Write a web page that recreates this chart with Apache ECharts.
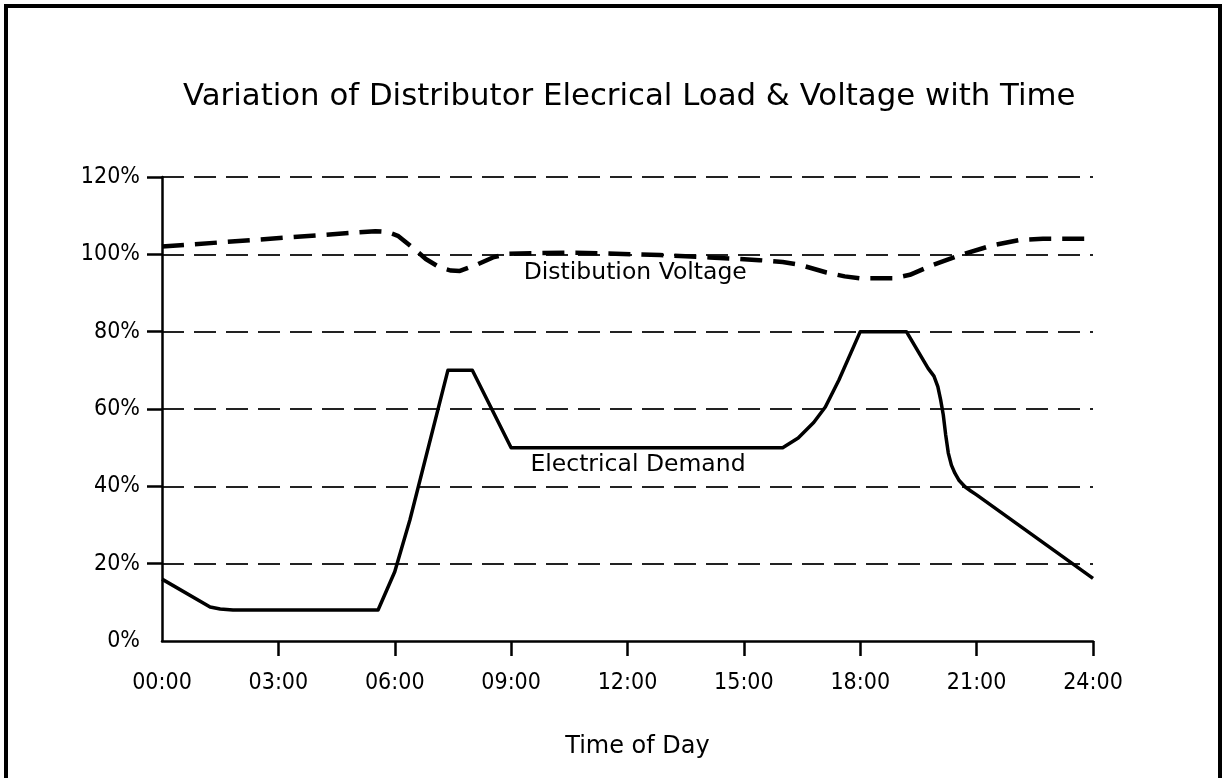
<!DOCTYPE html>
<html>
<head>
<meta charset="utf-8">
<style>html,body{margin:0;padding:0;background:#fff}#c{width:1223px;height:778px}</style>
<script src="https://cdn.jsdelivr.net/npm/echarts@6/dist/echarts.min.js"></script>
</head>
<body>
<div id="c"></div>
<script>
var titleText = 'Variation of Distributor Elecrical Load & Voltage with Time';
var xAxisName = 'Time of Day';
var tickHours = [0, 3, 6, 9, 12, 15, 18, 21, 24];
var xTickMarks = [3, 6, 9, 12, 15, 18, 21, 24];
var yTicks = [0, 20, 40, 60, 80, 100, 120];
var yTickMarks = [20, 40, 60, 80, 100, 120];

var demandName = 'Electrical Demand';
var demandHours  = [0, 1.24, 1.5, 1.83, 5.57, 6.0, 6.39, 7.37, 8.0, 9.0, 16.0, 16.4, 16.8, 17.1, 17.45, 18.0, 19.19, 19.75, 19.9, 20.0, 20.07, 20.14, 20.2, 20.27, 20.35, 20.44, 20.55, 20.7, 20.85, 21.0, 24];
var demandValues = [16, 8.8, 8.3, 8.0, 8.0, 17.9, 31.3, 70, 70, 50, 50, 52.5, 56.5, 60.5, 67.5, 80, 80, 70.5, 68.5, 65.8, 62.5, 58.5, 53.5, 48.6, 45.5, 43.4, 41.5, 39.9, 38.8, 37.8, 16.2];

var voltageName = 'Distibution Voltage';
var voltageHours  = [0, 5.5, 5.8, 6.08, 6.47, 6.8, 7.16, 7.45, 7.68, 8.11, 8.53, 8.88, 9.5, 10.5, 11.3, 12.84, 14.12, 15.4, 16.0, 16.44, 17.13, 17.6, 18.0, 18.85, 19.28, 19.88, 20.57, 21.43, 22.11, 22.71, 24];
var voltageValues = [102, 106, 105.8, 104.8, 101.7, 98.8, 96.6, 95.8, 95.7, 97.3, 99.2, 100.1, 100.3, 100.4, 100.3, 99.8, 99.2, 98.5, 98.0, 97.3, 95.3, 94.3, 93.8, 93.8, 94.7, 97.3, 99.8, 102.4, 103.7, 104.0, 104.0];

var demandLabelAt = [12.27, 45.5];
var voltageLabelAt = [12.2, 95.2];

function zip(a, b) { return a.map(function (v, i) { return [v, b[i]]; }); }
function pad(h) { return (h < 10 ? '0' : '') + h + ':00'; }

var FONT_C = "'DejaVu Sans Condensed', 'DejaVu Sans', sans-serif";
var FONT = "'DejaVu Sans', sans-serif";
var chart = echarts.init(document.getElementById('c'), null, {renderer: 'canvas'});

function labelPoint(name, coord) {
  return {
    symbol: 'circle', symbolSize: 1, silent: true,
    itemStyle: {color: 'rgba(0,0,0,0)'},
    label: {show: true, position: 'inside', color: '#000', fontFamily: FONT, fontSize: 23.5, formatter: name},
    data: [{coord: coord}]
  };
}

chart.setOption({
  animation: false,
  backgroundColor: '#fff',
  title: {
    text: titleText, left: 178, top: 76,
    textStyle: {fontFamily: FONT, fontWeight: 'normal', fontSize: 30.8, color: '#000'}
  },
  graphic: [{
    type: 'rect', shape: {x: 6, y: 6, width: 1214, height: 820},
    style: {fill: null, stroke: '#000', lineWidth: 4}, silent: true, z: 100
  }],
  grid: {left: 162, right: 130, top: 177, bottom: 137},
  xAxis: {
    type: 'value', min: 0, max: 24, interval: 3,
    name: xAxisName, nameLocation: 'middle', nameGap: 94,
    nameTextStyle: {fontFamily: FONT, fontSize: 24, color: '#000', padding: [0, 0, 0, 20]},
    axisLine: {show: true, onZero: false, lineStyle: {color: '#000', width: 2.5}},
    axisTick: {show: true, length: 15, customValues: xTickMarks, lineStyle: {color: '#000', width: 2.5}},
    axisLabel: {margin: 31, fontFamily: FONT_C, fontSize: 23, color: '#000', customValues: tickHours,
      formatter: function (v) { return pad(v); }},
    splitLine: {show: false}
  },
  yAxis: {
    type: 'value', min: 0, max: 120, interval: 20,
    axisLine: {show: true, lineStyle: {color: '#000', width: 2.5}},
    axisTick: {show: true, length: 15, customValues: yTickMarks, lineStyle: {color: '#000', width: 2.5}},
    axisLabel: {margin: 22, fontFamily: FONT_C, fontSize: 23, color: '#000', customValues: yTicks,
      formatter: '{value}%'},
    splitLine: {show: true, lineStyle: {color: '#222', width: 2, type: [22, 10]}}
  },
  series: [{
    name: voltageName, type: 'line', data: zip(voltageHours, voltageValues),
    showSymbol: false, smooth: false, z: 3,
    lineStyle: {color: '#000', width: 4.5, type: [22, 11], cap: 'butt'},
    markPoint: labelPoint(voltageName, voltageLabelAt)
  }, {
    name: demandName, type: 'line', data: zip(demandHours, demandValues),
    showSymbol: false, smooth: false, z: 3,
    lineStyle: {color: '#000', width: 3.5, join: 'round'},
    markPoint: labelPoint(demandName, demandLabelAt)
  }]
});
</script>
</body>
</html>
